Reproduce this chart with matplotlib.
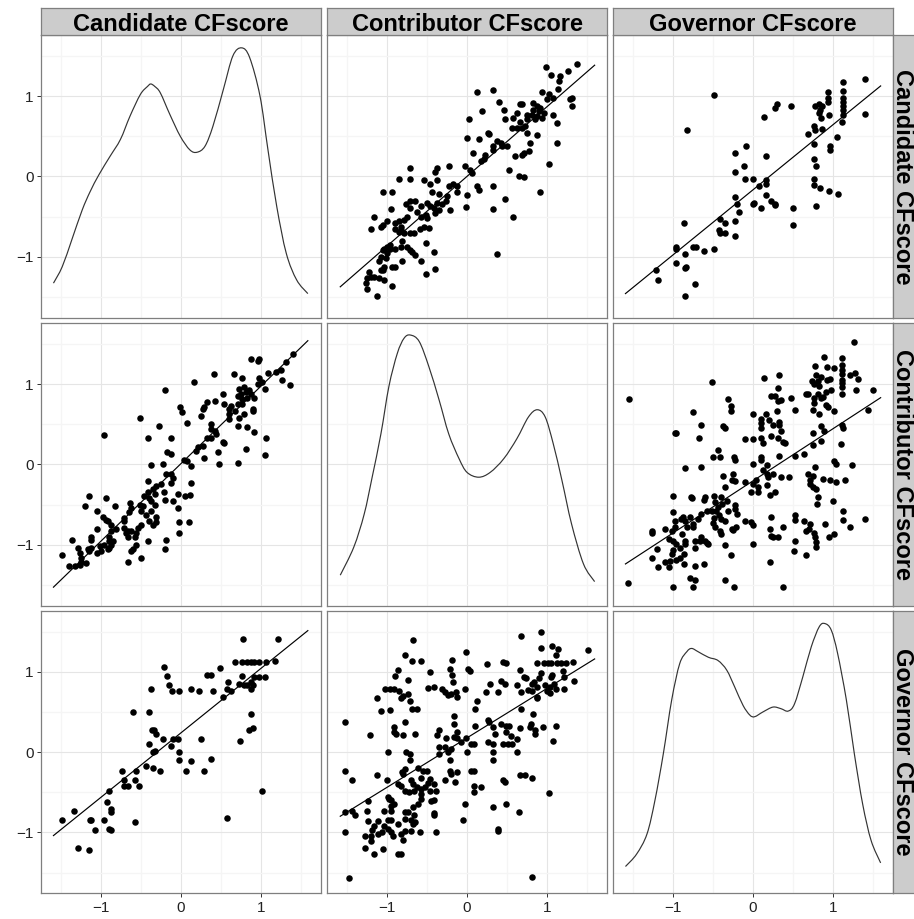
""" Scatterplot matrix of CFscores (candidate, contributor, governor):
    densities on the diagonal, scatter + linear fit off the diagonal.
"""

import numpy as np
import matplotlib.pyplot as plt
from matplotlib.path import Path
from matplotlib.patches import PathPatch


VARS = ['Candidate CFscore', 'Contributor CFscore', 'Governor CFscore']

# --- candidate vs contributor (same observations for both panels) ---
cc_contrib = [
    1.38, 0.99, 1.27, 1.17, 1.15, 1.05, 1.14, 0.94, 1.03, 1.08,
    1.31, 1.29, 1.31, 1.00, 0.83, 0.69, 0.67, 0.875, 0.92, 0.83,
    0.90, 0.96, 0.81, 0.75, 0.875, 0.94, 1.08, 1.125, 0.85, 0.75,
    0.58, 0.48, 0.46, 0.40, 0.625, 0.56, 0.625, 0.69, 0.73, 0.67,
    0.75, 0.875, 0.79, 0.71, 0.69, 0.60, 0.78, 1.125, 1.03, 0.33,
    0.12, 0.19, 0.02, 0.00, 0.15, 0.28, 0.26, 0.325, 0.375, 0.42,
    0.44, 0.50, 0.33, 0.23, 0.21, 0.17, 0.08, 0.04, -0.02, 0.06,
    0.125, 0.15, 0.33, 0.33, 0.48, 0.58, 0.65, 0.71, 0.52, 0.92,
    0.37, -0.01, 0.00, -0.21,
    -0.38, -0.40, -0.23, -0.375, -0.46, -0.54, -0.72, -0.72, -0.85, -0.94,
    -1.05, -1.17, -1.21, -1.06, -1.08, -1.01, -0.95, -0.90, -0.85, -0.83,
    -0.79, -0.75, -0.76, -0.72, -0.65, -0.71, -0.625, -0.58, -0.52, -0.50,
    -0.54, -0.48, -0.59, -0.67, -0.71, -0.58, -0.50, -0.42, -0.40, -0.35,
    -0.44, -0.35, -0.23, -0.17, -0.125, -0.125, -0.25, -0.27, -0.31, -0.375,
    -0.46, -0.83, -0.79, -0.90, -0.85, -0.81, -0.96, -1.00, -1.04, -1.06,
    -1.00, -1.08, -1.10, -1.02, -0.96, -0.90, -0.83, -0.75, -0.71, -0.69,
    -0.65, -0.58, -0.52, -0.42, -0.40, -0.52, -0.81, -0.94, -0.90, -1.04,
    -1.08, -1.06, -1.04, -0.94, -1.10, -1.23, -1.21, -1.25, -1.27, -1.26,
    -1.17, -1.125,
]
cc_cand = [
    1.40, 1.36, 1.31, 1.25, 1.19, 1.26, 1.09, 1.05, 1.02, 0.98,
    0.98, 0.96, 0.875, 0.96, 0.91, 0.90, 0.90, 0.875, 0.85, 0.83,
    0.81, 0.79, 0.77, 0.77, 0.75, 0.73, 0.77, 0.67, 0.71, 0.71,
    0.73, 0.71, 0.83, 0.92, 0.79, 0.60, 0.60, 0.60, 0.625, 0.675,
    0.54, 0.52, 0.42, 0.29, 0.27, 0.25, 0.32, 0.41, 0.16, 1.07,
    1.05, 0.81, 0.72, 0.48, 0.46, 0.53, 0.54, 0.375, 0.44, 0.42,
    0.375, 0.375, 0.33, 0.27, 0.21, 0.19, 0.29, 0.08, 0.125, 0.04,
    -0.125, -0.17, -0.12, -0.41, -0.28, -0.51, 0.01, -0.01, 0.08, -0.20,
    -0.97, -0.38, -0.23, -0.42,
    0.11, 0.05, 0.125, -0.04, -0.10, -0.04, 0.10, -0.03, -0.03, -0.19,
    -0.20, -0.50, -0.66, -0.60, -0.625, -0.56, -0.41, -0.575, -0.56, -0.625,
    -0.54, -0.50, -0.35, -0.31, -0.31, -0.40, -0.44, -0.50, -0.48, -0.52,
    -0.625, -0.64, -0.65, -0.71, -0.71, -0.375, -0.33, -0.40, -0.46, -0.42,
    -0.20, -0.22, -0.125, -0.10, -0.125, -0.19, -0.25, -0.31, -0.35, -0.33,
    -0.375, -0.67, -0.71, -0.66, -0.69, -0.81, -0.85, -0.875, -0.90, -0.92,
    -0.96, -1.00, -1.06, -1.02, -0.90, -0.90, -0.875, -0.875, -0.92, -0.94,
    -0.98, -1.06, -0.83, -0.94, -1.15, -1.21, -1.06, -1.125, -1.125, -1.125,
    -1.16, -1.17, -1.29, -1.37, -1.27, -1.19, -1.25, -1.27, -1.33, -1.40,
    -1.25, -1.49,
]

# --- candidate vs governor ---
cg_gov = [
    1.41, 1.13, 1.125, 0.94, 0.94, 0.94, 1.125, 1.125, 1.125, 1.125,
    1.125, 0.83, 0.78, 0.87, 0.84, 0.83, 0.85, 0.95, 1.12, 1.41,
    1.05, 0.96, 0.96, 0.78, 0.69, 0.76, 0.87, 0.76, 0.76, 0.79,
    0.76, 0.76, 0.84, 0.95, 1.06, 0.79, 0.50, 0.50, 0.48, 0.30,
    0.28, 0.14, -0.09, -0.23, 0.16, -0.11, -0.23, -0.10, 0.00, 0.075,
    0.16, 0.16, 0.16, 0.22, 0.27, 0.28, 0.10, 0.01, 0.00, -0.23,
    -0.20, -0.175, -0.23, -0.23, -0.42, -0.35, -0.425, -0.42, -0.35, -0.49,
    -0.825, -0.49, -0.62, -0.71, -0.75, -0.87, -0.97, -0.96, -0.85, -0.85,
    -0.84, -0.97, -1.22, -1.19, -0.73, -0.85,
]
cg_cand = [
    1.21, 1.18, 1.06, 1.05, 0.98, 0.92, 0.98, 0.92, 0.875, 0.825,
    0.77, 0.90, 0.88, 0.875, 0.83, 0.79, 0.73, 0.76, 0.675, 0.78,
    0.49, 0.375, 0.33, 0.58, 0.53, 0.625, 0.59, 0.40, 0.22, 0.125,
    -0.03, -0.11, -0.15, -0.18, -0.22, -0.375, -0.40, -0.60, 0.88, 0.90,
    0.85, 0.74, 0.38, 0.29, 0.25, 0.125, 0.06, -0.03, -0.03, -0.125,
    -0.04, -0.10, -0.23, -0.31, -0.34, -0.36, -0.40, -0.33, -0.35, -0.26,
    -0.35, -0.44, -0.56, -0.74, -0.53, -0.575, -0.67, -0.71, -0.71, 1.01,
    0.575, -0.90, -0.925, -0.875, -0.875, -0.58, -0.875, -0.90, -0.97, -1.14,
    -1.13, -1.08, -1.16, -1.29, -1.34, -1.49,
]

# --- contributor vs governor ---
kg_gov = [
    1.27, 0.89, 1.12, 0.78, 0.93, 1.01, 1.11, 1.11, 1.11, 1.21,
    1.28, 1.32, 0.79, 0.85, 0.74, 0.81, 0.76, 0.83, 0.93, 0.96,
    1.11, 1.11, 1.11, 1.29, 1.50, 0.98, 0.92, 0.875, 0.81, 0.85,
    0.69, 0.76, 0.77, 0.75, 0.92, 1.02, 0.83, 0.94, 1.11, 1.44,
    0.85, 0.89, 0.75, 1.11, 1.125, 0.85, 0.75, 1.10, 0.325, 0.14,
    0.31, 0.23, 0.28, 0.35, 0.31, 0.48, 0.67, 0.53, 0.30,
    0.16, 0.00, 0.10, 0.10, 0.10, 0.20, 0.25, 0.325, 0.325, 0.35,
    0.31, 0.375, 0.40, 0.22, 0.10, 0.00, -0.10, 0.125, 0.53, 0.64,
    0.33, -0.51, -0.32, -0.28, -0.28, -0.75, -0.65, -0.375, -0.35, -0.68,
    -0.98, -0.96, -0.44, -0.50, -0.42, -0.24, -0.23, -0.85, -0.65, 0.10,
    0.10, 0.00, 0.17, 0.125, 0.17, 0.19, 0.25, 0.35, 0.45, 0.04,
    0.00, -0.10, -0.25, -0.27, -0.23, -0.375, -0.35, 0.06, 0.06, -0.02,
    0.17, 0.21, 0.27, 0.69, 0.75, 0.72, 0.71, 0.75, 0.79, 0.875,
    0.96, 1.04, 1.15, 1.24, 1.01, 1.04, 0.78, 0.81, 0.80, 1.00,
    -1.00, -0.78, -0.76, -0.60, -0.61, -0.49, -0.48, -0.40, -0.39, -0.44,
    -0.46, -0.52, -0.33, -0.23, -0.23, -0.20, -0.32, -0.43, -0.49,
    -0.40, -0.35, -0.50, -0.48, -0.42, -0.40, -0.27, -0.25, -0.21, -0.10,
    -0.02, 0.00, 0.23, 0.21, 0.23, 0.25, 0.31, 0.375, 0.53, 0.53,
    0.64, 0.72, 0.70, 0.67, 0.76, 0.78, 0.79, 0.79, 0.90, 0.95,
    1.02, 1.13, 1.13, 1.21, 1.40, 0.52, 0.51, 0.67, 0.00, 0.21,
    0.375, -0.58, -0.65, -0.69, -0.79, -0.75, -0.75, -0.83, -0.85, -0.875,
    -0.90, -0.98, -1.00, -0.98, -1.02, -1.10, -1.27, -1.27, -1.05, -1.00,
    -0.96, -0.89, -0.85, -0.85, -0.73, -0.67, -0.65, -0.60, -0.56, -0.73,
    -0.92, -1.00, -1.02, -0.97, -0.92, -0.86, -0.86, -0.73, -0.61, -0.35,
    -0.28, -1.21, -1.27, -1.19, -1.11, -1.04, -1.05, -0.79, -0.73, -0.75,
    -1.00, -0.35, -0.24, -1.57, -1.56, -0.58,
]
kg_contrib = [
    1.52, 1.34, 1.33, 1.22, 1.21, 1.20, 1.24, 1.175, 1.13, 1.11,
    1.14, 1.06, 1.11, 1.09, 1.04, 1.04, 1.00, 0.975, 1.05, 1.06,
    1.05, 1.01, 0.96, 0.925, 0.925, 0.925, 0.90, 0.84, 0.88, 0.82,
    0.875, 0.82, 0.76, 0.675, 0.74, 0.66, 0.63, 0.72, 0.88, 0.675,
    0.475, 0.42, 0.39, 0.49, 0.45, 0.29, 0.24, 0.25, 1.11, 1.08,
    0.95, 0.85, 0.85, 0.80, 0.79, 0.83, 0.88, 0.675, 0.67,
    0.625, 0.625, 0.56, 0.51, 0.45, 0.55, 0.49, 0.53, 0.49, 0.42,
    0.33, 0.28, 0.26, 0.35, 0.33, 0.32, 0.32, 0.26, 0.10, 0.13,
    0.10, 1.03, 0.81, 0.725, 0.67, 0.65, 0.49, 0.475, 0.45, 0.33,
    0.39, 0.39, 0.175, 0.09, 0.09, 0.09, 0.05, -0.05, -0.03, 0.09,
    0.05, 0.00, -0.01, -0.075, -0.12, -0.16, -0.12, -0.16, -0.16, -0.20,
    -0.24, -0.22, -0.12, -0.20, -0.21, -0.15, -0.28, -0.28, -0.35, -0.35,
    -0.26, -0.38, -0.35, -0.12, -0.14, -0.20, -0.24, -0.28, -0.31, -0.18,
    -0.19, -0.22, -0.19, -0.01, 0.04, 0.01, -0.03, -0.41, -0.49, -0.46,
    -0.39, -0.41, -0.42, -0.41, -0.45, -0.39, -0.47, -0.41, -0.49, -0.53,
    -0.575, -0.575, -0.46, -0.50, -0.55, -0.62, -0.575, -0.625, -0.67,
    -0.68, -0.70, -0.73, -0.78, -0.825, -0.87, -0.80, -0.82, -0.78, -0.71,
    -0.72, -0.76, -0.65, -0.80, -0.89, -0.91, -0.91, -0.775, -0.625, -0.69,
    -0.71, -0.74, -0.80, -0.825, -0.85, -0.91, -0.97, -1.025, -0.74, -0.90,
    -0.87, -0.575, -0.69, -0.78, -0.68, -0.96, -1.08, -1.125, -0.99, -1.22,
    -1.525, -0.575, -0.62, -0.68, -0.66, -0.74, -0.775, -0.775, -0.70, -0.65,
    -0.68, -0.70, -0.59, -0.78, -0.825, -0.80, -0.825, -0.86, -0.93, -0.95,
    -0.99, -0.87, -0.95, -0.99, -0.95, -0.95, -0.91, -0.95, -0.99, -1.04,
    -1.04, -1.07, -1.12, -1.19, -1.17, -1.12, -1.24, -1.26, -1.24, -1.01,
    -1.125, -1.05, -1.17, -1.28, -1.21, -1.20, -1.28, -1.41, -1.44, -1.525,
    -1.525, -1.44, -1.525, -1.48, 0.81, -0.98,
]

# --- linear fits as drawn in the reference: (x var, y var) -> slope, intercept ---
fit_lines = {
    ('Contributor CFscore', 'Candidate CFscore'): (0.865, 0.0),
    ('Governor CFscore', 'Candidate CFscore'): (0.808, -0.167),
    ('Candidate CFscore', 'Contributor CFscore'): (0.962, 0.01),
    ('Governor CFscore', 'Contributor CFscore'): (0.647, -0.205),
    ('Candidate CFscore', 'Governor CFscore'): (0.80, 0.24),
    ('Contributor CFscore', 'Governor CFscore'): (0.614, 0.177),
}

# --- diagonal density curves (rescaled to the panel's y range) ---
cand_dens_x = [-1.60, -1.49, -1.37, -1.24, -1.14, -1.03, -0.89, -0.76, -0.64,
               -0.51, -0.42, -0.38, -0.33, -0.26, -0.14, -0.01, 0.11, 0.20,
               0.30, 0.40, 0.53, 0.65, 0.76, 0.86, 0.99, 1.09, 1.20, 1.32,
               1.45, 1.59]
cand_dens_y = [-1.33, -1.125, -0.79, -0.42, -0.19, 0.02, 0.25, 0.46, 0.75,
               1.02, 1.12, 1.15, 1.12, 1.04, 0.77, 0.50, 0.33, 0.30,
               0.375, 0.625, 1.08, 1.50, 1.60, 1.48, 1.00, 0.33, -0.375, -0.96,
               -1.29, -1.46]
contrib_dens_x = [-1.59, -1.42, -1.29, -1.19, -1.08, -0.98, -0.875, -0.79,
                  -0.71, -0.60, -0.48, -0.35, -0.23, -0.10, 0.00, 0.146, 0.29,
                  0.46, 0.625, 0.77, 0.88, 0.98, 1.08, 1.19, 1.31, 1.46, 1.60]
contrib_dens_y = [-1.38, -1.03, -0.62, -0.16, 0.38, 0.97, 1.38, 1.57,
                  1.61, 1.53, 1.22, 0.80, 0.38, 0.07, -0.10, -0.16, -0.10,
                  0.07, 0.32, 0.59, 0.68, 0.59, 0.26, -0.20, -0.74, -1.24, -1.46]
gov_dens_x = [-1.60, -1.46, -1.33, -1.23, -1.125, -1.02, -0.92, -0.83, -0.77,
              -0.69, -0.56, -0.44, -0.33, -0.23, -0.125, -0.04, 0.02, 0.125,
              0.25, 0.35, 0.44, 0.52, 0.625, 0.73, 0.83, 0.90, 0.98, 1.06,
              1.17, 1.27, 1.375, 1.48, 1.60]
gov_dens_y = [-1.425, -1.27, -1.02, -0.60, -0.02, 0.65, 1.10, 1.25, 1.29,
              1.25, 1.18, 1.14, 1.02, 0.81, 0.58, 0.46, 0.44, 0.50,
              0.56, 0.54, 0.51, 0.60, 0.94, 1.31, 1.56, 1.60, 1.52, 1.23,
              0.65, -0.02, -0.65, -1.10, -1.38]

TICKS = [-1, 0, 1]
TICK_LABELS = ['\u22121', '0', '1']
LIM = (-1.76, 1.76)


def smooth_path(xs, ys):
    """ Catmull-Rom style cubic Bezier path through the given points. """
    p = np.column_stack([xs, ys])
    ext = np.vstack([p[0], p, p[-1]])
    verts = [p[0]]
    codes = [Path.MOVETO]
    for k in range(len(p) - 1):
        p0, p1, p2, p3 = ext[k], ext[k + 1], ext[k + 2], ext[k + 3]
        verts += [p1 + (p2 - p0) / 6, p2 - (p3 - p1) / 6, p2]
        codes += [Path.CURVE4] * 3
    return Path(verts, codes)


def main():
    values = {
        ('Candidate CFscore', 'Contributor CFscore'): (cc_cand, cc_contrib),
        ('Candidate CFscore', 'Governor CFscore'): (cg_cand, cg_gov),
        ('Contributor CFscore', 'Governor CFscore'): (kg_contrib, kg_gov),
    }
    dens = {
        'Candidate CFscore': (cand_dens_x, cand_dens_y),
        'Contributor CFscore': (contrib_dens_x, contrib_dens_y),
        'Governor CFscore': (gov_dens_x, gov_dens_y),
    }

    def pair(xvar, yvar):
        key = tuple(v for v in VARS if v in (xvar, yvar))
        a, b = values[key]
        return (a, b) if key[0] == xvar else (b, a)

    plt.rcParams['font.family'] = ['Liberation Sans', 'DejaVu Sans']

    W, H = 914, 919
    fig = plt.figure(figsize=(W / 100, H / 100), dpi=100)

    col_left = [40.7, 326.7, 612.7]
    row_top = [35.0, 323.0, 610.7]
    pw, ph = 280.7, 282.7
    strip_h = 26.7

    def rect(x, y, w, h):
        return [x / W, 1 - (y + h) / H, w / W, h / H]

    for i, yvar in enumerate(VARS):
        for j, xvar in enumerate(VARS):
            ax = fig.add_axes(rect(col_left[j], row_top[i], pw, ph))
            ax.set_xlim(*LIM)
            ax.set_ylim(*LIM)
            ax.set_xticks(TICKS)
            ax.set_yticks(TICKS)
            ax.set_xticks([-1.5, -0.5, 0.5, 1.5], minor=True)
            ax.set_yticks([-1.5, -0.5, 0.5, 1.5], minor=True)
            ax.grid(which='major', color='#e5e5e5', lw=0.8)
            ax.grid(which='minor', color='#f5f5f5', lw=0.9)
            ax.set_axisbelow(True)
            for s in ax.spines.values():
                s.set_color('#7f7f7f')
                s.set_linewidth(0.9)
            ax.tick_params(which='minor', length=0)
            ax.tick_params(which='major', direction='out', length=3.2,
                           width=0.7, color='#333333', labelsize=11,
                           labelcolor='#222222', pad=2)

            if i == j:
                dx, dy = dens[xvar]
                ax.add_patch(PathPatch(smooth_path(dx, dy), fill=False,
                                       edgecolor='#333333', lw=0.85))
            else:
                x, y = pair(xvar, yvar)
                ax.scatter(x, y, s=22, color='black', linewidths=0, zorder=3)
                slope, icpt = fit_lines[(xvar, yvar)]
                x0, x1 = dens[xvar][0][0], dens[xvar][0][-1]
                ax.plot([x0, x1], [icpt + slope * x0, icpt + slope * x1],
                        color='black', lw=0.85, zorder=4)

            if j == 0:
                ax.set_yticklabels(TICK_LABELS)
            else:
                ax.tick_params(axis='y', left=False, labelleft=False)
            if i == 2:
                ax.set_xticklabels(TICK_LABELS)
            else:
                ax.tick_params(axis='x', bottom=False, labelbottom=False)

    # facet strips
    for j, var in enumerate(VARS):
        sax = fig.add_axes(rect(col_left[j], row_top[0] - strip_h, pw, strip_h))
        sax.set_facecolor('#cccccc')
        sax.set_xticks([])
        sax.set_yticks([])
        for s in sax.spines.values():
            s.set_color('#7f7f7f')
            s.set_linewidth(0.9)
        fig.text((col_left[j] + pw / 2) / W, 1 - 30.6 / H, var,
                 ha='center', va='baseline', fontsize=17, fontweight='bold')
    for i, var in enumerate(VARS):
        sax = fig.add_axes(rect(col_left[2] + pw, row_top[i], strip_h, ph))
        sax.set_facecolor('#cccccc')
        sax.set_xticks([])
        sax.set_yticks([])
        for s in sax.spines.values():
            s.set_color('#7f7f7f')
            s.set_linewidth(0.9)
        fig.text(896.5 / W, 1 - (row_top[i] + ph / 2) / H, var,
                 ha='center', va='baseline', fontsize=17, fontweight='bold',
                 rotation=-90, rotation_mode='anchor')

    fig.savefig('out.png', dpi=100, facecolor='white')


if __name__ == '__main__':
    main()
